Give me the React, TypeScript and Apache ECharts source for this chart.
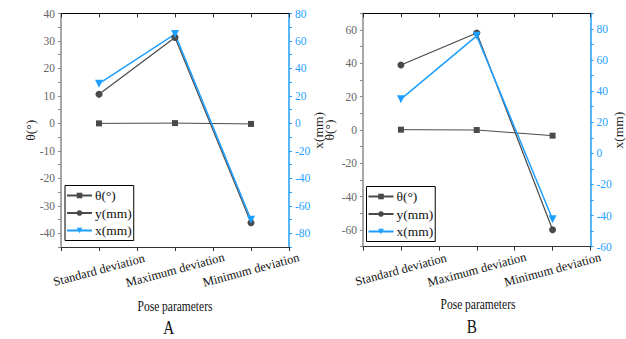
import React, { useEffect, useRef } from "react";
import * as echarts from "echarts";

const categories = ["Standard deviation", "Maximum deviation", "Minimum deviation"];
const seriesNames = ["θ(°)", "y(mm)", "x(mm)"];

// Panel A
const thetaA = [0, 0.1, -0.2];
const yA = [10.6, 31.3, -36.2];
const xA = [28.9, 65.0, -70.1];

// Panel B
const thetaB = [0.2, 0, -3.4];
const yB = [39.0, 58.2, -59.8];
const xB = [34.8, 75.5, -42.4];

const panelLabels = ["A", "B"];
const xAxisTitle = "Pose parameters";
const leftAxisName = "θ(°)";
const rightAxisName = "x(mm)";

const FONT = "'Liberation Serif', 'Times New Roman', serif";
const GRAY = "#4a4a4a";
const BLUE = "#1f9fff";

export default function App() {
  const ref = useRef<HTMLDivElement>(null);
  useEffect(() => {
    if (!ref.current) return;
    const chart = echarts.init(ref.current, undefined, { renderer: "svg" });

    const grids = [
      { left: 61, width: 228, top: 13.5, height: 233.5 },
      { left: 363, width: 230, top: 13.3, height: 233.4 },
    ];

    const xAxes: any[] = [];
    const yAxes: any[] = [];
    const series: any[] = [];
    const legends: any[] = [];
    const graphics: any[] = [];

    const yRanges = [
      { lmin: -45, lmax: 40, linterval: 5, lstep: 10, rmin: -90, rmax: 80, rinterval: 10, rstep: 20 },
      { lmin: -70, lmax: 70, linterval: 10, lstep: 20, rmin: -60, rmax: 90, rinterval: 10, rstep: 20 },
    ];
    const nameGaps = [
      { left: 23.5, right: 22.5 },
      { left: 26.5, right: 20.5 },
    ];
    const data = [
      [thetaA, yA, xA],
      [thetaB, yB, xB],
    ];

    grids.forEach((g, gi) => {
      const r = yRanges[gi];
      const baseX = xAxes.length;
      xAxes.push({
        type: "category",
        gridIndex: gi,
        data: categories,
        boundaryGap: true,
        position: "bottom",
        axisLine: { show: true, onZero: false, lineStyle: { color: "#333", width: 1 } },
        axisTick: { show: false },
        axisLabel: {
          rotate: 15,
          align: "center",
          verticalAlign: "middle",
          margin: 23,
          fontFamily: FONT,
          fontSize: 12.5,
          color: "#111",
        },
        splitLine: { show: false },
      });
      xAxes.push({
        type: "value",
        gridIndex: gi,
        min: 0,
        max: 3,
        interval: 0.5,
        position: "bottom",
        axisLine: { show: false, onZero: false },
        axisTick: { show: true, inside: false, length: 4, lineStyle: { color: "#333" } },
        axisLabel: { show: false },
        splitLine: { show: false },
      });
      xAxes.push({
        type: "value",
        gridIndex: gi,
        min: 0,
        max: 3,
        interval: 0.5,
        position: "top",
        axisLine: { show: true, onZero: false, lineStyle: { color: "#000", width: 1.2 } },
        axisTick: { show: true, inside: true, length: 4, lineStyle: { color: "#333" } },
        axisLabel: { show: false },
        splitLine: { show: false },
      });

      const baseY = yAxes.length;
      yAxes.push({
        type: "value",
        gridIndex: gi,
        position: "left",
        min: r.lmin,
        max: r.lmax,
        interval: r.linterval,
        name: leftAxisName,
        nameLocation: "middle",
        nameRotate: 90,
        nameGap: nameGaps[gi].left,
        nameMoveOverlap: false,
        nameTextStyle: { fontFamily: FONT, fontSize: 13.5, color: "#222" },
        axisLine: { show: true, onZero: false, lineStyle: { color: "#8a8a8a", width: 1.5 } },
        axisTick: { show: true, inside: false, length: 3, lineStyle: { color: "#8a8a8a" } },
        axisLabel: {
          margin: 6,
          fontFamily: FONT,
          fontSize: 11.5,
          color: "#666",
          formatter: (v: number) => (v % r.lstep === 0 ? String(v) : ""),
        },
        splitLine: { show: false },
      });
      yAxes.push({
        type: "value",
        gridIndex: gi,
        position: "right",
        min: r.rmin,
        max: r.rmax,
        interval: r.rinterval,
        name: rightAxisName,
        nameLocation: "middle",
        nameRotate: 90,
        nameGap: nameGaps[gi].right,
        nameMoveOverlap: false,
        nameTextStyle: { fontFamily: FONT, fontSize: 13.5, color: "#222" },
        axisLine: { show: true, onZero: false, lineStyle: { color: BLUE, width: 1.5 } },
        axisTick: { show: true, inside: false, length: 3, lineStyle: { color: BLUE } },
        axisLabel: {
          margin: 6,
          fontFamily: FONT,
          fontSize: 11.5,
          color: BLUE,
          formatter: (v: number) => (v % r.rstep === 0 ? String(v) : ""),
        },
        splitLine: { show: false },
      });

      const [th, yy, xx] = data[gi];
      series.push({
        name: seriesNames[0],
        type: "line",
        xAxisIndex: baseX,
        yAxisIndex: baseY,
        data: th,
        symbol: "rect",
        symbolSize: 6,
        itemStyle: { color: GRAY },
        lineStyle: { color: GRAY, width: 1 },
      });
      series.push({
        name: seriesNames[1],
        type: "line",
        xAxisIndex: baseX,
        yAxisIndex: baseY,
        data: yy,
        symbol: "circle",
        symbolSize: 7,
        itemStyle: { color: GRAY },
        lineStyle: { color: GRAY, width: 1.2 },
      });
      series.push({
        name: seriesNames[2],
        type: "line",
        xAxisIndex: baseX,
        yAxisIndex: baseY + 1,
        data: xx,
        symbol: "triangle",
        symbolRotate: 180,
        symbolSize: 8,
        itemStyle: { color: BLUE },
        lineStyle: { color: BLUE, width: 1.5 },
      });

      legends.push({
        orient: "vertical",
        left: gi === 0 ? 65 : 366.5,
        top: gi === 0 ? 185.5 : 186.5,
        data: seriesNames,
        itemWidth: 25,
        itemHeight: 7,
        itemGap: 3.5,
        padding: [3, 2, 3, 1],
        borderColor: "#000",
        borderWidth: 1,
        borderRadius: 0,
        backgroundColor: "#fff",
        textStyle: { fontFamily: FONT, fontSize: 13.5, color: "#111", padding: [0, 0, 0, -2] },
        selectedMode: false,
      });

      const cx = g.left + g.width / 2;
      graphics.push({
        type: "text",
        x: cx,
        y: gi === 0 ? 307 : 305,
        scaleX: 0.82,
        originX: 0,
        style: {
          text: xAxisTitle,
          fontFamily: FONT,
          fontSize: 14,
          fill: "#111",
          align: "center",
          verticalAlign: "middle",
        },
      });
      graphics.push({
        type: "text",
        x: gi === 0 ? 168.7 : 471.7,
        y: gi === 0 ? 328 : 326.5,
        scaleX: 0.8,
        originX: 0,
        style: {
          text: panelLabels[gi],
          fontFamily: FONT,
          fontSize: 19,
          fill: "#111",
          align: "center",
          verticalAlign: "middle",
        },
      });
    });

    chart.setOption({
      animation: false,
      backgroundColor: "#fff",
      grid: grids,
      xAxis: xAxes,
      yAxis: yAxes,
      legend: legends,
      series,
      graphic: graphics,
    });
    return () => chart.dispose();
  }, []);

  return (
    <div
      ref={ref}
      style={{ position: "fixed", left: 0, top: 0, width: 626, height: 339 }}
    />
  );
}
